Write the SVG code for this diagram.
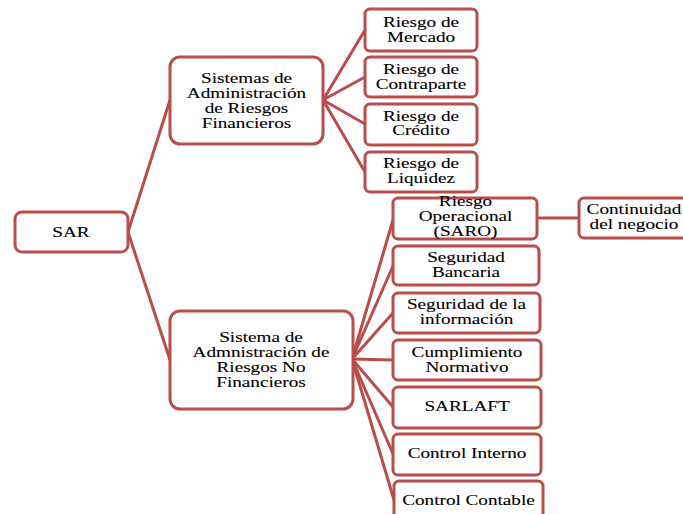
<svg xmlns="http://www.w3.org/2000/svg" width="683" height="514" viewBox="0 0 683 514">
<style>
.box{fill:#fff;stroke:#b94d4b;stroke-width:3}
.ln{stroke:#b94d4b;stroke-width:3;fill:none;stroke-linecap:round}
text{font-family:"Liberation Serif","Times New Roman",serif;font-size:14px;fill:#000;stroke:#000;stroke-width:0.1;text-anchor:middle}
</style>
<rect width="683" height="514" fill="#fff"/>
<g id="connectors">
<line class="ln" x1="128" y1="232" x2="170" y2="100"/>
<line class="ln" x1="128" y1="232" x2="170" y2="360"/>
<line class="ln" x1="323" y1="100" x2="365" y2="30"/>
<line class="ln" x1="323" y1="100" x2="365" y2="77"/>
<line class="ln" x1="323" y1="100" x2="365" y2="124"/>
<line class="ln" x1="323" y1="100" x2="365" y2="172"/>
<line class="ln" x1="352" y1="359" x2="393" y2="220"/>
<line class="ln" x1="352" y1="359" x2="393" y2="266"/>
<line class="ln" x1="352" y1="359" x2="393" y2="313"/>
<line class="ln" x1="352" y1="359" x2="393" y2="360"/>
<line class="ln" x1="352" y1="359" x2="393" y2="407"/>
<line class="ln" x1="352" y1="359" x2="393" y2="454"/>
<line class="ln" x1="352" y1="359" x2="394" y2="500"/>
<line class="ln" x1="537" y1="218" x2="579" y2="218"/>
</g>
<g id="sar">
<rect class="box" x="15" y="212" width="113" height="40" rx="7"/>
<text transform="translate(71,0) scale(1.37,1)" y="237">SAR</text>
</g>
<g id="financieros">
<rect class="box" x="170" y="57" width="153" height="87" rx="10"/>
<text transform="translate(246.5,0) scale(1.37,1)"><tspan x="0" y="83">Sistemas de</tspan><tspan x="0" y="98">Administración</tspan><tspan x="0" y="113">de Riesgos</tspan><tspan x="0" y="128">Financieros</tspan></text>
</g>
<g id="nofinancieros">
<rect class="box" x="170" y="311" width="183" height="98" rx="10"/>
<text transform="translate(261,0) scale(1.37,1)"><tspan x="0" y="342">Sistema de</tspan><tspan x="0" y="357">Admnistración de</tspan><tspan x="0" y="372">Riesgos No</tspan><tspan x="0" y="387">Financieros</tspan></text>
</g>
<g id="mercado">
<rect class="box" x="365" y="9" width="112" height="42" rx="5"/>
<text transform="translate(421,0) scale(1.37,1)"><tspan x="0" y="27">Riesgo de</tspan><tspan x="0" y="42">Mercado</tspan></text>
</g>
<g id="contraparte">
<rect class="box" x="365" y="57" width="112" height="40" rx="5"/>
<text transform="translate(421,0) scale(1.37,1)"><tspan x="0" y="74">Riesgo de</tspan><tspan x="0" y="89">Contraparte</tspan></text>
</g>
<g id="credito">
<rect class="box" x="365" y="104" width="112" height="41" rx="5"/>
<text transform="translate(421,0) scale(1.37,1)"><tspan x="0" y="121">Riesgo de</tspan><tspan x="0" y="135.5">Crédito</tspan></text>
</g>
<g id="liquidez">
<rect class="box" x="365" y="152" width="112" height="40" rx="5"/>
<text transform="translate(421,0) scale(1.37,1)"><tspan x="0" y="168.5">Riesgo de</tspan><tspan x="0" y="183">Liquidez</tspan></text>
</g>
<g id="operacional">
<rect class="box" x="393" y="198" width="144" height="41" rx="5"/>
<text transform="translate(465.5,0) scale(1.37,1)"><tspan x="0" y="206">Riesgo</tspan><tspan x="0" y="221">Operacional</tspan><tspan x="0" y="236">(SARO)</tspan></text>
</g>
<g id="continuidad">
<rect class="box" x="579" y="198" width="110" height="40" rx="5"/>
<text transform="translate(634,0) scale(1.37,1)"><tspan x="0" y="214.5">Continuidad</tspan><tspan x="0" y="229">del negocio</tspan></text>
</g>
<g id="bancaria">
<rect class="box" x="393" y="246" width="146" height="39" rx="5"/>
<text transform="translate(466,0) scale(1.37,1)"><tspan x="0" y="262">Seguridad</tspan><tspan x="0" y="277">Bancaria</tspan></text>
</g>
<g id="informacion">
<rect class="box" x="393" y="293" width="147" height="40" rx="5"/>
<text transform="translate(466.5,0) scale(1.37,1)"><tspan x="0" y="309.5">Seguridad de la</tspan><tspan x="0" y="324">información</tspan></text>
</g>
<g id="cumplimiento">
<rect class="box" x="393" y="340" width="148" height="40" rx="5"/>
<text transform="translate(467,0) scale(1.37,1)"><tspan x="0" y="357">Cumplimiento</tspan><tspan x="0" y="372">Normativo</tspan></text>
</g>
<g id="sarlaft">
<rect class="box" x="393" y="387" width="148" height="41" rx="5"/>
<text transform="translate(467,0) scale(1.37,1)" y="411.5">SARLAFT</text>
</g>
<g id="interno">
<rect class="box" x="393" y="434" width="148" height="41" rx="5"/>
<text transform="translate(467,0) scale(1.37,1)" y="458.5">Control Interno</text>
</g>
<g id="contable">
<rect class="box" x="394" y="481" width="149" height="40" rx="5"/>
<text transform="translate(468.5,0) scale(1.37,1)" y="505">Control Contable</text>
</g>
</svg>
